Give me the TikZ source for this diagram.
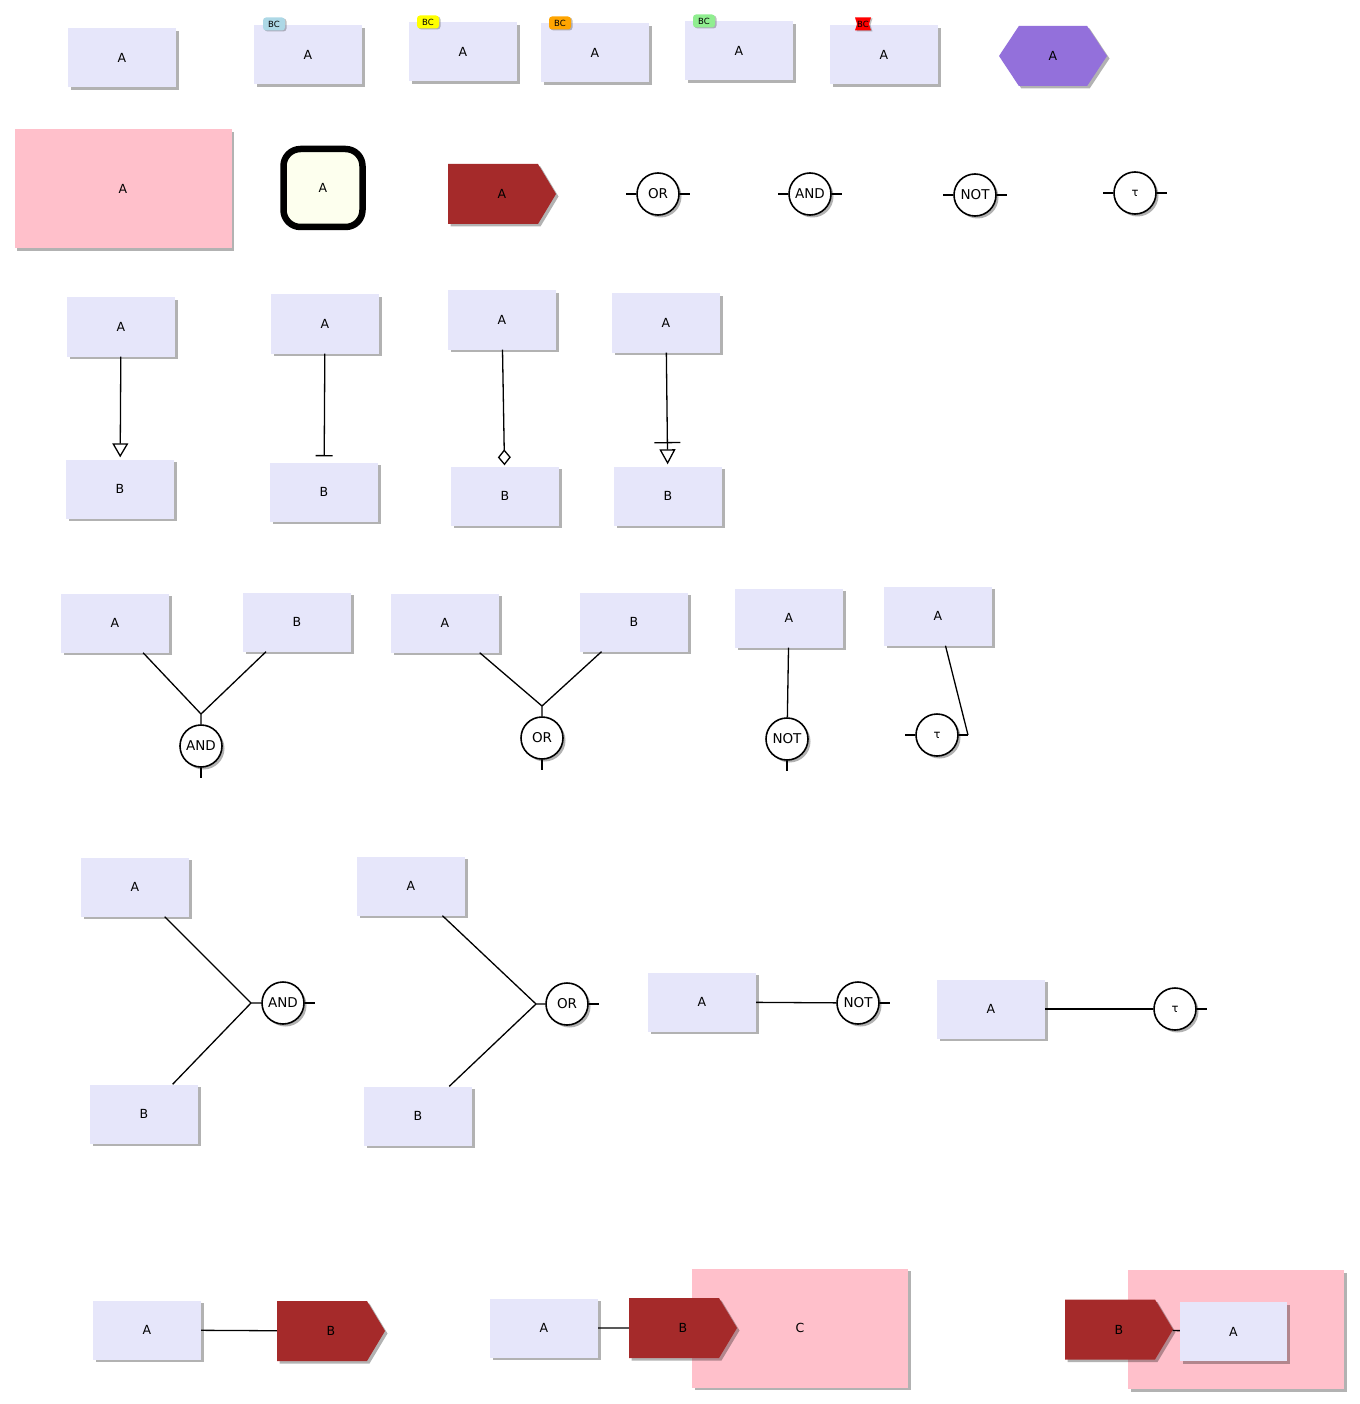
\documentclass[tikz,border=0pt]{standalone}
\usepackage{fontspec}
\setmainfont{DejaVu Sans}
\usetikzlibrary{arrows.meta,shapes.symbols,shadows}
\definecolor{color_lavande}{HTML}{E6E6FA}
\definecolor{color_rose}{HTML}{FFC0CB}
\definecolor{color_brun}{HTML}{A52A2A}
\definecolor{color_violet}{HTML}{9370DB}
\definecolor{color_ivoire}{HTML}{FDFFEE}
\definecolor{color_bleu}{HTML}{ADD8E6}
\definecolor{color_jaune}{HTML}{FFFF00}
\definecolor{color_orange}{HTML}{FFA500}
\definecolor{color_vert}{HTML}{90EE90}
\definecolor{color_rouge}{HTML}{FF0000}

\tikzset{
	ombre/.style={drop shadow={shadow xshift=2.5pt, shadow yshift=-2.5pt, fill=black, opacity=0.3}},
	boite/.style={fill=color_lavande, minimum width=108pt, minimum height=59pt, inner sep=0pt, ombre, font=\fontsize{12.5}{14}\selectfont},
	rose/.style={fill=color_rose, minimum width=217pt, minimum height=119pt, inner sep=0pt, ombre, font=\fontsize{12.5}{14}\selectfont},
	fleche/.style={signal, signal to=east, signal pointer angle=118, fill=color_brun, minimum width=108pt, minimum height=60pt, inner sep=0pt, ombre, font=\fontsize{12.5}{14}\selectfont, execute at begin node={\hspace*{18pt}}},
	hexagone/.style={signal, signal to=east and west, signal pointer angle=113, fill=color_violet, minimum width=108pt, minimum height=60pt, inner sep=0pt, ombre, font=\fontsize{12.5}{14}\selectfont},
	arrondi/.style={draw, line width=6.5pt, rounded corners=17pt, fill=color_ivoire, minimum width=79pt, minimum height=78pt, ombre, font=\fontsize{12.5}{14}\selectfont},
	porte/.style={circle, draw, line width=1.6pt, fill=white, minimum size=42pt, inner sep=0pt, ombre, font=\fontsize{13.5}{15}\selectfont},
	tau/.style={porte, font=\fontsize{11.5}{13}\selectfont},
	etiquette/.style={rounded corners=3pt, minimum width=22pt, minimum height=13pt, inner sep=0pt, drop shadow={shadow xshift=1.5pt, shadow yshift=-1pt, fill=black, opacity=0.25}, font=\fontsize{8.5}{9}\selectfont},
	lien/.style={line width=1.3pt},
}

\begin{document}
\begin{tikzpicture}[x=1pt, y=-1pt]
		\useasboundingbox (0,0) rectangle (1359,1404);
		
		% Rangée 1 : boîtes et étiquettes
		\node[boite] (a11) at (122,58) {A};
		\node[boite] (a12) at (308,55) {A};
		\node[etiquette, fill=color_bleu] (t12) at (274,24) {BC};
		\node[boite] (a13) at (463,52) {A};
		\node[etiquette, fill=color_jaune] (t13) at (428,22) {BC};
		\node[boite] (a14) at (595,53) {A};
		\node[etiquette, fill=color_orange] (t14) at (560,23) {BC};
		\node[boite] (a15) at (739,51) {A};
		\node[etiquette, fill=color_vert] (t15) at (704,21) {BC};
		\node[boite] (a16) at (884,55) {A};
		\node[etiquette, signal, signal to=nowhere, signal from=west and east, signal pointer angle=145, minimum width=16pt, rounded corners=0pt, fill=color_rouge] (t16) at (863,24) {BC};
		\node[hexagone] (a17) at (1053,56) {A};
		
		% Rangée 2 : formes et portes
		\node[rose] (r21) at (123,189) {A};
		\node[arrondi] (r22) at (323,188) {A};
		\node[fleche] (r23) at (493,194) {A};
		\node[porte] (g21) at (658,194) {OR};
		\node[porte] (g22) at (810,194) {AND};
		\node[porte] (g23) at (975,195) {NOT};
		\node[tau] (g24) at (1135,193) {τ};
		\foreach \g in {g21,g22,g23,g24} {
			\draw[lien] (\g.west) -- ++(-10,0);
			\draw[lien] (\g.east) -- ++(10,0);
		}
		
		% Rangée 3 : pointes de flèche
		\node[boite] (a31) at (121,327) {A};
		\node[boite] (b31) at (120,489) {B};
		\draw[lien, -{Triangle[open, width=16pt, length=14pt]}, shorten >=2pt] (a31) -- (b31);
		\node[boite] (a32) at (325,324) {A};
		\node[boite] (b32) at (324,492) {B};
		\draw[lien, -{Bar[width=17pt]}, shorten >=6pt] (a32) -- (b32);
		\node[boite] (a33) at (502,320) {A};
		\node[boite] (b33) at (505,496) {B};
		\draw[lien, -{Diamond[open, width=13pt, length=16pt]}, shorten >=1pt] (a33) -- (b33);
		\node[boite] (a34) at (666,323) {A};
		\node[boite] (b34) at (668,496) {B};
		\draw[lien, -{Bar[width=26pt, sep=6pt] Triangle[open, width=16pt, length=15pt]}, shorten >=2pt] (a34) -- (b34);
		
		% Rangée 4 : portes vers le bas
		\node[boite] (a41) at (115,623) {A};
		\node[boite] (b41) at (297,622) {B};
		\coordinate (j41) at (201,714);
		\node[porte] (g41) at (201,746) {AND};
		\draw[lien] (a41) -- (j41) -- (g41);
		\draw[lien] (b41) -- (j41);
		\draw[lien] (g41.south) -- ++(0,10);
		
		\node[boite] (a42) at (445,623) {A};
		\node[boite] (b42) at (634,622) {B};
		\coordinate (j42) at (542,706);
		\node[porte] (g42) at (542,738) {OR};
		\draw[lien] (a42) -- (j42) -- (g42);
		\draw[lien] (b42) -- (j42);
		\draw[lien] (g42.south) -- ++(0,10);
		
		\node[boite] (a43) at (789,618) {A};
		\node[porte] (g43) at (787,739) {NOT};
		\draw[lien] (a43) -- (g43);
		\draw[lien] (g43.south) -- ++(0,10);
		
		\node[boite] (a44) at (938,616) {A};
		\node[tau] (g44) at (937,735) {τ};
		\coordinate (e44) at (968,735);
		\draw[lien] (g44.west) -- ++(-10,0);
		\draw[lien] (g44.east) -- (e44);
		\draw[lien] (a44) -- (e44);
		
		% Rangée 5 : portes vers la droite
		\node[boite] (a51) at (135,887) {A};
		\node[boite] (b51) at (144,1114) {B};
		\coordinate (j51) at (251,1003);
		\node[porte] (g51) at (283,1003) {AND};
		\draw[lien] (a51) -- (j51) -- (g51);
		\draw[lien] (b51) -- (j51);
		\draw[lien] (g51.east) -- ++(10,0);
		
		\node[boite] (a52) at (411,886) {A};
		\node[boite] (b52) at (418,1116) {B};
		\coordinate (j52) at (536,1004);
		\node[porte] (g52) at (567,1004) {OR};
		\draw[lien] (a52) -- (j52) -- (g52);
		\draw[lien] (b52) -- (j52);
		\draw[lien] (g52.east) -- ++(10,0);
		
		\node[boite] (a53) at (702,1002) {A};
		\node[porte] (g53) at (858,1003) {NOT};
		\draw[lien] (a53) -- (g53);
		\draw[lien] (g53.east) -- ++(10,0);
		
		\node[boite] (a54) at (991,1009) {A};
		\node[tau] (g54) at (1175,1009) {τ};
		\draw[lien] (a54) -- (g54);
		\draw[lien] (g54.east) -- ++(10,0);
		
		% Rangée 6 : événements et zones
		\node[boite] (a61) at (147,1330) {A};
		\node[fleche] (b61) at (322,1331) {B};
		\draw[lien] (a61) -- (b61);
		
		\node[rose, minimum width=216pt] (c62) at (800,1328) {C};
		\node[boite] (a62) at (544,1328) {A};
		\node[fleche] (b62) at (674,1328) {B};
		\draw[lien] (a62) -- (b62);
		
		\node[rose, minimum width=216pt] (r63) at (1236,1329.5) {};
		\node[fleche] (b63) at (1110,1329.5) {B};
		\node[boite, minimum width=107pt] (a63) at (1233.5,1331.5) {A};
		\draw[lien] (b63) -- (a63);
	\end{tikzpicture}
\end{document}
